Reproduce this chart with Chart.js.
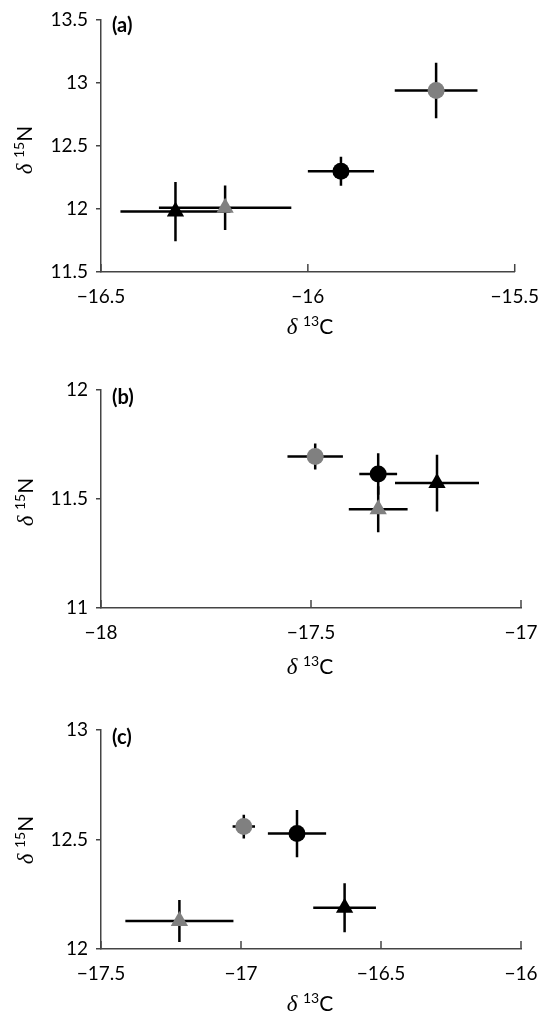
<!DOCTYPE html>
<html>
<head>
<meta charset="utf-8">
<script src="https://cdn.jsdelivr.net/npm/chart.js@4"></script>
<style>
  body { margin: 0; background: #fff; }
  #wrap { position: relative; width: 544px; height: 1015px; font-family: Lato, "Liberation Sans", sans-serif; color: #000; }
  canvas { position: absolute; left: 0; }
  .lbl { position: absolute; font-weight: bold; font-size: 20px; line-height: 22px; }
  .ttl { position: absolute; font-size: 21px; white-space: nowrap; transform: translate(-50%, -50%); }
  .ttl.rot { transform: translate(-50%, -50%) rotate(-90deg); }
  .ttl i { font-family: "Liberation Serif", serif; font-size: 23px; }
  .ttl sup { font-size: 14px; vertical-align: baseline; position: relative; top: -0.6em; }
</style>
</head>
<body>
<div id="wrap">
  <canvas id="chartA" width="544" height="340" style="top:0"></canvas>
  <canvas id="chartB" width="544" height="340" style="top:340px"></canvas>
  <canvas id="chartC" width="544" height="335" style="top:680px"></canvas>

  <div class="lbl" style="left:112px;top:13px">(a)</div>
  <div class="lbl" style="left:112px;top:385px">(b)</div>
  <div class="lbl" style="left:112px;top:725px">(c)</div>

  <div class="ttl rot" style="left:24px;top:150px"><i>δ</i> <sup>15</sup>N</div>
  <div class="ttl rot" style="left:25px;top:502px"><i>δ</i> <sup>15</sup>N</div>
  <div class="ttl rot" style="left:25px;top:840px"><i>δ</i> <sup>15</sup>N</div>

  <div class="ttl" style="left:310px;top:326px"><i>δ</i> <sup>13</sup>C</div>
  <div class="ttl" style="left:310px;top:666px"><i>δ</i> <sup>13</sup>C</div>
  <div class="ttl" style="left:310px;top:1003px"><i>δ</i> <sup>13</sup>C</div>
</div>
<script>
// orden de grupos: circulo negro, circulo gris, triangulo negro, triangulo gris
const grupos = ["black circle", "grey circle", "black triangle", "grey triangle"];

// panel (a)
const c13A = [-15.92, -15.69, -16.32, -16.20];
const c13A_sd = [0.08, 0.10, 0.133, 0.16];
const n15A = [12.30, 12.94, 11.98, 12.01];
const n15A_sd = [0.115, 0.22, 0.235, 0.177];
const xTicksA = [-16.5, -16, -15.5];
const yTicksA = [11.5, 12, 12.5, 13, 13.5];

// panel (b)
const c13B = [-17.34, -17.49, -17.20, -17.34];
const c13B_sd = [0.045, 0.066, 0.10, 0.07];
const n15B = [11.615, 11.695, 11.573, 11.453];
const n15B_sd = [0.095, 0.06, 0.13, 0.105];
const xTicksB = [-18, -17.5, -17];
const yTicksB = [11, 11.5, 12];

// panel (c)
const c13C = [-16.80, -16.99, -16.63, -17.22];
const c13C_sd = [0.104, 0.04, 0.112, 0.193];
const n15C = [12.527, 12.559, 12.188, 12.128];
const n15C_sd = [0.108, 0.054, 0.112, 0.096];
const xTicksC = [-17.5, -17, -16.5, -16];
const yTicksC = [12, 12.5, 13];

const estilos = ["circle", "circle", "triangle", "triangle"];
const colores = ["#000000", "#808080", "#000000", "#808080"];
const radios = [8.5, 8.5, 10, 10];
const colorEje = "#444";
const fuente = { family: "Lato, 'Liberation Sans', sans-serif", size: 19 };

const formato = (v) => (v < 0 ? "\u2212" : "") + Math.abs(v);

// dibuja barras de error y las marcas hacia adentro del eje x
const barrasError = {
  id: "barrasError",
  beforeDatasetsDraw(chart) {
    const { ctx, chartArea, scales: { x, y } } = chart;
    ctx.save();
    ctx.strokeStyle = "#000";
    ctx.lineWidth = 2.5;
    chart.data.datasets.forEach((ds) => {
      ds.data.forEach((p) => {
        ctx.beginPath();
        ctx.moveTo(x.getPixelForValue(p.x - p.xErr), y.getPixelForValue(p.y));
        ctx.lineTo(x.getPixelForValue(p.x + p.xErr), y.getPixelForValue(p.y));
        ctx.moveTo(x.getPixelForValue(p.x), y.getPixelForValue(p.y - p.yErr));
        ctx.lineTo(x.getPixelForValue(p.x), y.getPixelForValue(p.y + p.yErr));
        ctx.stroke();
      });
    });
    ctx.strokeStyle = colorEje;
    ctx.lineWidth = 1.5;
    x.ticks.forEach((t) => {
      const px = x.getPixelForValue(t.value);
      ctx.beginPath();
      ctx.moveTo(px, chartArea.bottom);
      ctx.lineTo(px, chartArea.bottom - 8);
      ctx.stroke();
    });
    ctx.restore();
  },
};

function crearGrafica(id, xs, xsd, ys, ysd, xTicks, yTicks, arriba, abajo, alto) {
  const datasets = grupos.map((g, i) => ({
    label: g,
    data: [{ x: xs[i], y: ys[i], xErr: xsd[i], yErr: ysd[i] }],
    pointStyle: estilos[i],
    backgroundColor: colores[i],
    borderColor: colores[i],
    borderWidth: 0,
    pointRadius: radios[i],
  }));
  const config = {
    type: "scatter",
    data: { datasets },
    options: {
      responsive: false,
      animation: false,
      layout: { padding: { left: 0, right: 23, top: arriba, bottom: 0 } },
      plugins: { legend: { display: false }, tooltip: { enabled: false } },
      scales: {
        x: {
          type: "linear",
          min: xTicks[0],
          max: xTicks[xTicks.length - 1],
          afterBuildTicks: (s) => { s.ticks = xTicks.map((v) => ({ value: v })); },
          afterFit: (s) => { s.height = alto - abajo; },
          grid: { display: false },
          border: { display: true, color: colorEje, width: 1.5 },
          ticks: { font: fuente, color: "#000", padding: 5, maxRotation: 0, autoSkip: false, callback: formato },
        },
        y: {
          type: "linear",
          min: yTicks[0],
          max: yTicks[yTicks.length - 1],
          afterBuildTicks: (s) => { s.ticks = yTicks.map((v) => ({ value: v })); },
          afterFit: (s) => { s.width = 101; },
          grid: { display: true, drawOnChartArea: false, drawTicks: true, tickLength: 5, color: colorEje, lineWidth: 1.5 },
          border: { display: true, color: colorEje, width: 1.5 },
          ticks: { font: fuente, color: "#000", padding: 8, autoSkip: false, callback: formato },
        },
      },
    },
    plugins: [barrasError],
  };
  new Chart(document.getElementById(id), config);
}

crearGrafica("chartA", c13A, c13A_sd, n15A, n15A_sd, xTicksA, yTicksA, 20, 272, 340);
crearGrafica("chartB", c13B, c13B_sd, n15B, n15B_sd, xTicksB, yTicksB, 50, 268, 340);
crearGrafica("chartC", c13C, c13C_sd, n15C, n15C_sd, xTicksC, yTicksC, 50, 269, 335);
</script>
</body>
</html>
